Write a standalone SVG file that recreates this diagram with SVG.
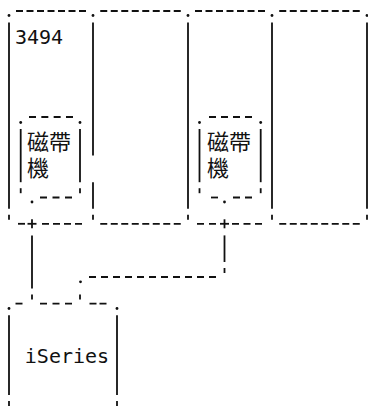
<svg xmlns="http://www.w3.org/2000/svg" width="368" height="408" viewBox="0 0 368 408">
<style>
  line { stroke: #111; stroke-width: 1.8; fill: none; }
  .d35 { stroke-dasharray: 7 3.5; }
  .d4 { stroke-dasharray: 7 4; }
  .d45 { stroke-dasharray: 7 4.5; }
  .d5 { stroke-dasharray: 7 5; }
  .d53 { stroke-dasharray: 7 5.33; }
  .d55 { stroke-dasharray: 7 5.5; }
  .d3 { stroke-dasharray: 7 3; }
  circle { fill: #111; }
  .lbl { font-family: "DejaVu Sans Mono", "Liberation Mono", monospace; font-size: 20px; fill: #111; }
  .cjk { font-family: "DejaVu Sans Mono", "Noto Sans CJK TC", "Noto Sans CJK SC", sans-serif; font-size: 22px; fill: #111; }
</style>
<rect width="368" height="408" fill="#fff"/>

<g id="box-3494">
  <circle cx="9" cy="15.5" r="1.4"/>
  <line class="d35" x1="16" y1="11" x2="86" y2="11"/>
  <circle cx="93" cy="15.5" r="1.4"/>
  <line x1="9" y1="22.6" x2="9" y2="208.8"/>
  <line x1="93" y1="22.6" x2="93" y2="155.6"/>
  <line x1="93" y1="182.2" x2="93" y2="208.8"/>
  <line x1="9" y1="214.8" x2="9" y2="219.8"/>
  <line x1="18" y1="223.8" x2="25" y2="223.8"/>
  <line class="d4" x1="42" y1="223.8" x2="82" y2="223.8"/>
  <line x1="93" y1="214.8" x2="93" y2="219.8"/>
  <text class="lbl" x="15" y="44">3494</text>
</g>

<g id="tape-1">
  <circle cx="20.7" cy="122.5" r="1.4"/>
  <line class="d53" x1="29" y1="117" x2="73" y2="117"/>
  <circle cx="80" cy="122.5" r="1.4"/>
  <line x1="20.7" y1="129" x2="20.7" y2="182.2"/>
  <line x1="80" y1="129" x2="80" y2="182.2"/>
  <line x1="20.7" y1="188.2" x2="20.7" y2="193.2"/>
  <circle cx="32" cy="202" r="1.4"/>
  <line class="d55" x1="40" y1="197.5" x2="72" y2="197.5"/>
  <line x1="80" y1="188.2" x2="80" y2="193.2"/>
  <text class="cjk" x="27" y="150">磁帶</text>
  <text class="cjk" x="27" y="176">機</text>
</g>

<g id="box-2">
  <line class="d35" x1="100.25" y1="11" x2="180.75" y2="11"/>
  <circle cx="188" cy="15.5" r="1.4"/>
  <line x1="188" y1="22.6" x2="188" y2="208.8"/>
  <line class="d35" x1="100.25" y1="223.8" x2="180.75" y2="223.8"/>
  <line x1="188" y1="214.8" x2="188" y2="219.8"/>
</g>

<g id="box-3">
  <line class="d35" x1="195" y1="11" x2="265" y2="11"/>
  <circle cx="272" cy="15.5" r="1.4"/>
  <line x1="272" y1="22.6" x2="272" y2="208.8"/>
  <line class="d5" x1="197" y1="223.8" x2="216" y2="223.8"/>
  <line class="d45" x1="232" y1="223.8" x2="262" y2="223.8"/>
  <line x1="272" y1="214.8" x2="272" y2="219.8"/>
</g>

<g id="tape-2">
  <circle cx="199.5" cy="122.5" r="1.4"/>
  <line class="d5" x1="209" y1="117" x2="252" y2="117"/>
  <circle cx="260.7" cy="122.5" r="1.4"/>
  <line x1="199.5" y1="129" x2="199.5" y2="182.2"/>
  <line x1="260.7" y1="129" x2="260.7" y2="182.2"/>
  <line x1="199.5" y1="188.2" x2="199.5" y2="193.2"/>
  <line x1="211" y1="197.5" x2="218" y2="197.5"/>
  <circle cx="224.5" cy="202" r="1.4"/>
  <line class="d5" x1="233" y1="197.5" x2="252" y2="197.5"/>
  <line x1="260.7" y1="188.2" x2="260.7" y2="193.2"/>
  <text class="cjk" x="207" y="150">磁帶</text>
  <text class="cjk" x="207" y="176">機</text>
</g>

<g id="box-4">
  <line class="d35" x1="279.25" y1="11" x2="359.75" y2="11"/>
  <circle cx="367" cy="15.5" r="1.4"/>
  <line x1="367" y1="22.6" x2="367" y2="208.8"/>
  <line class="d35" x1="279.25" y1="223.8" x2="359.75" y2="223.8"/>
  <line x1="367" y1="214.8" x2="367" y2="219.8"/>
</g>

<g id="iSeries">
  <circle cx="9" cy="308.5" r="1.4"/>
  <line x1="15.5" y1="303.6" x2="22.5" y2="303.6"/>
  <line class="d55" x1="40" y1="303.6" x2="72" y2="303.6"/>
  <line class="d3" x1="89.5" y1="303.6" x2="106.5" y2="303.6"/>
  <circle cx="117" cy="308.5" r="1.4"/>
  <line x1="9" y1="315.2" x2="9" y2="395"/>
  <line x1="117" y1="315.2" x2="117" y2="395"/>
  <line x1="9" y1="401" x2="9" y2="406"/>
  <line x1="117" y1="401" x2="117" y2="406"/>
  <text class="lbl" x="24.8" y="363">iSeries</text>
</g>

<g id="connectors">
  <line x1="27.5" y1="223.8" x2="36.5" y2="223.8"/>
  <line x1="32" y1="219.3" x2="32" y2="228.3"/>
  <line x1="32" y1="235.4" x2="32" y2="288.6"/>
  <line x1="32" y1="294.6" x2="32" y2="299.6"/>
  <line x1="220" y1="223.8" x2="229" y2="223.8"/>
  <line x1="224.5" y1="219.3" x2="224.5" y2="228.3"/>
  <line x1="224.5" y1="235.4" x2="224.5" y2="262"/>
  <line x1="224.5" y1="268" x2="224.5" y2="273"/>
  <line class="d5" x1="89" y1="277" x2="216" y2="277"/>
  <circle cx="80.5" cy="281.8" r="1.4"/>
  <line x1="80" y1="294.6" x2="80" y2="299.6"/>
</g>
</svg>
